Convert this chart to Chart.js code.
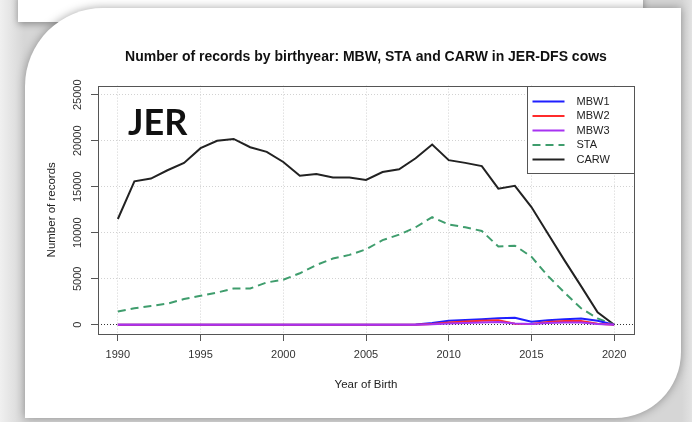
<!DOCTYPE html>
<html>
<head>
<meta charset="utf-8">
<script src="https://cdn.jsdelivr.net/npm/chart.js@4.4.1/dist/chart.umd.min.js"></script>
<style>
html,body{margin:0;padding:0;width:692px;height:422px;overflow:hidden;background:#d9d9d9;}
#bg{position:absolute;left:0;top:0;width:692px;height:422px;background:linear-gradient(90deg,#f0f0f0 0px,#d6d6d6 24px,#d6d6d6 682px,#e2e2e2 692px);}
#strip{position:absolute;left:18px;top:-6px;width:625px;height:28px;background:#fff;box-shadow:0 2px 7px rgba(0,0,0,0.35);}
#card{position:absolute;left:25px;top:8px;width:656px;height:410px;background:#fff;border-radius:78px 0 66px 0;box-shadow:0 0 10px rgba(0,0,0,0.35);}
#wrap{position:absolute;left:0;top:0;width:692px;height:422px;}
</style>
</head>
<body>
<div id="bg"></div>
<div id="strip"></div>
<div id="card"></div>
<div id="wrap"><canvas id="c" width="692" height="422"></canvas></div>
<script>
const titleText = 'Number of records by birthyear: MBW, STA and CARW in JER-DFS cows';
const years = [1990,1991,1992,1993,1994,1995,1996,1997,1998,1999,2000,2001,2002,2003,2004,2005,2006,2007,2008,2009,2010,2011,2012,2013,2014,2015,2016,2017,2018,2019,2020];
const xTicks = [1990,1995,2000,2005,2010,2015,2020];
const yTicks = [0,5000,10000,15000,20000,25000];
const seriesNames = ['MBW1','MBW2','MBW3','STA','CARW'];
const mbw1 = [0,0,0,0,0,0,0,0,0,0,0,0,0,0,0,0,0,0,30,200,450,520,600,700,760,330,500,600,680,450,0];
const mbw2 = [0,0,0,0,0,0,0,0,0,0,0,0,0,0,0,0,0,0,10,100,250,350,450,500,120,100,300,400,420,120,0];
const mbw3 = [0,0,0,0,0,0,0,0,0,0,0,0,0,0,0,0,0,0,10,50,150,200,250,300,150,100,200,250,250,100,0];
const sta  = [1450,1800,2050,2300,2800,3150,3500,3950,3950,4600,4900,5600,6500,7200,7600,8200,9200,9800,10600,11700,10900,10600,10200,8500,8600,7400,5300,3500,1800,700,0];
const carw = [11500,15600,15900,16800,17600,19200,20000,20200,19300,18800,17700,16200,16400,16000,16000,15750,16600,16900,18100,19600,17900,17600,17250,14800,15100,12800,9900,7000,4200,1350,0];
const panelLabel = 'JER';

const FONT = "'Liberation Sans', Arial, Helvetica, sans-serif";
const LABEL_FONT = "bold 36px Lato, 'Liberation Sans'";
const pts = arr => years.map((yr, i) => ({x: yr, y: arr[i]}));

const styles = [
  {color:'#1f1fff', dash:[], order:2},
  {color:'#ff2b2b', dash:[], order:1},
  {color:'#a733f2', dash:[], order:0},
  {color:'#3f9d6d', dash:[8,5], order:3},
  {color:'#222222', dash:[], order:4}
];
const allSeries = [mbw1, mbw2, mbw3, sta, carw];

const datasets = allSeries.map((s, i) => ({
  label: seriesNames[i],
  data: pts(s),
  borderColor: styles[i].color,
  backgroundColor: styles[i].color,
  borderDash: styles[i].dash,
  borderWidth: 2,
  pointRadius: 0,
  tension: 0,
  fill: false,
  order: styles[i].order
}));

const decor = {
  id: 'decor',
  afterDraw(chart) {
    const {ctx, chartArea: a} = chart;
    ctx.save();
    ctx.strokeStyle = '#555';
    ctx.lineWidth = 1;
    ctx.setLineDash([]);
    const L = Math.round(a.left) + 0.5, T = Math.round(a.top) + 0.5;
    const R = Math.round(a.right) + 0.5, B = Math.round(a.bottom) + 0.5;
    ctx.strokeRect(L, T, R - L, B - T);
    // legend
    const lw = 107, lh = 87;
    const lx = R - lw, ly = T;
    ctx.fillStyle = '#fff';
    ctx.fillRect(lx, ly, lw, lh);
    ctx.strokeRect(lx, ly, lw, lh);
    chart.data.datasets.forEach((ds, i) => {
      const yy = ly + 15 + i * 14.5;
      ctx.beginPath();
      ctx.strokeStyle = ds.borderColor;
      ctx.lineWidth = 2;
      ctx.setLineDash(ds.borderDash || []);
      ctx.moveTo(lx + 5, yy);
      ctx.lineTo(lx + 37, yy);
      ctx.stroke();
      ctx.setLineDash([]);
      ctx.fillStyle = '#222';
      ctx.font = '11px ' + FONT;
      ctx.textBaseline = 'middle';
      ctx.textAlign = 'left';
      ctx.fillText(ds.label, lx + 49, yy);
    });
    // panel label
    ctx.fillStyle = '#111';
    ctx.font = LABEL_FONT;
    ctx.textBaseline = 'alphabetic';
    ctx.textAlign = 'left';
    ctx.fillText(panelLabel, a.left + 30, a.top + 49);
    ctx.restore();
  }
};

function build() {
  new Chart(document.getElementById('c'), {
    type: 'line',
    data: {datasets},
    options: {
      responsive: false,
      animation: false,
      devicePixelRatio: 1,
      layout: {padding: {left: 0, right: 58, top: 0, bottom: 0}},
      plugins: {
        legend: {display: false},
        tooltip: {enabled: false},
        title: {
          display: true, text: titleText, fullSize: false,
          font: {family: FONT, size: 14, weight: 'bold'}, color: '#111',
          padding: {top: 48.6, bottom: 20.2}
        }
      },
      scales: {
        x: {
          type: 'linear', min: 1988.8, max: 2021.2,
          afterBuildTicks: s => { s.ticks = xTicks.map(v => ({value: v})); },
          afterFit: s => { s.height = 88; },
          grid: {color: '#d2d2d2', lineWidth: 1, tickColor: '#555', tickLength: 7, drawTicks: true},
          border: {display: false, dash: [1, 2]},
          ticks: {font: {family: FONT, size: 11}, color: '#333', padding: 7, maxRotation: 0, autoSkip: false, callback: v => String(v)},
          title: {display: true, text: 'Year of Birth', font: {family: FONT, size: 11.5}, color: '#222', padding: {top: 0, bottom: 30}}
        },
        y: {
          type: 'linear', min: -1000, max: 26000,
          afterBuildTicks: s => { s.ticks = yTicks.map(v => ({value: v})); },
          afterFit: s => { s.width = 98; },
          grid: {color: c => (c.tick && c.tick.value === 0 ? '#333' : '#d2d2d2'), lineWidth: 1, tickColor: '#555', tickLength: 7, drawTicks: true},
          border: {display: false, dash: [1, 2]},
          ticks: {font: {family: FONT, size: 11}, color: '#333', padding: -2, minRotation: 90, maxRotation: 90, crossAlign: 'center', autoSkip: false, callback: v => String(v)},
          title: {display: true, text: 'Number of records', font: {family: FONT, size: 11.5}, color: '#222', padding: {top: 45, bottom: 0}}
        }
      }
    },
    plugins: [decor]
  });
}

if (document.fonts && document.fonts.load) {
  Promise.all([
    document.fonts.load(LABEL_FONT, panelLabel),
    document.fonts.load("14px 'Liberation Sans'"),
    document.fonts.load("bold 14px 'Liberation Sans'")
  ]).then(build, build);
} else {
  build();
}
</script>
</body>
</html>
